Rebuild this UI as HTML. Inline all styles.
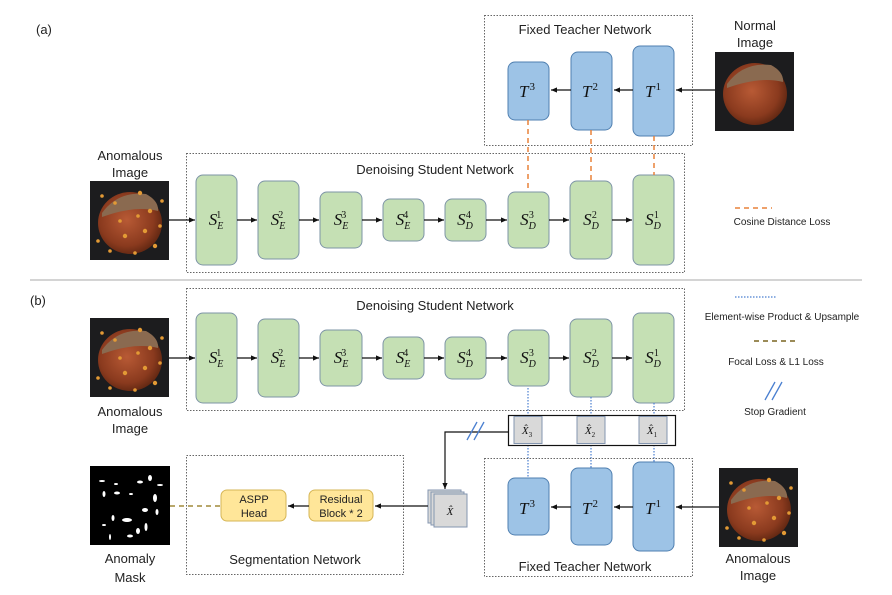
<!DOCTYPE html>
<html><head><meta charset="utf-8"><style>
html,body{margin:0;padding:0;background:#fff}
svg{display:block}
.t{font-family:"Liberation Sans",sans-serif;fill:#222}
.m{font-family:"Liberation Serif",serif;font-style:italic;fill:#111}
</style></head><body>
<svg width="892" height="595" viewBox="0 0 892 595" xmlns="http://www.w3.org/2000/svg">
<defs>
<radialGradient id="nut" cx="0.45" cy="0.45" r="0.6">
<stop offset="0" stop-color="#b85a35"/><stop offset="0.7" stop-color="#8a3a1e"/><stop offset="1" stop-color="#5a2410"/></radialGradient>
<marker id="ar" markerWidth="6" markerHeight="6" refX="5" refY="3" orient="auto"><path d="M0,0.8 L5,3 L0,5.2z" fill="#111"/></marker>
<g id="img">
<rect width="79" height="79" fill="#1c1c1e"/>
<ellipse cx="40" cy="42" rx="32" ry="31" fill="url(#nut)"/>
<path d="M12,32 Q28,10 56,13 Q69,20 68,30 Q45,24 12,36z" fill="#8a6a50"/>
</g>
<g id="spots" fill="#e39a35">
<circle cx="12" cy="15" r="1.8"/><circle cx="50" cy="12" r="2.2"/><circle cx="60" cy="30" r="2.2"/><circle cx="72" cy="20" r="1.8"/><circle cx="25" cy="22" r="1.8"/><circle cx="35" cy="55" r="2.2"/><circle cx="55" cy="50" r="2.2"/><circle cx="70" cy="45" r="1.8"/><circle cx="8" cy="60" r="1.8"/><circle cx="20" cy="70" r="1.8"/><circle cx="45" cy="72" r="1.8"/><circle cx="65" cy="65" r="2.2"/><circle cx="30" cy="40" r="1.8"/><circle cx="48" cy="35" r="1.8"/>
</g>
</defs>

<text x="36" y="34" class="t" font-size="13">(a)</text>
<text x="30" y="305" class="t" font-size="13">(b)</text>
<line x1="30" y1="280" x2="862" y2="280" stroke="#aaa" stroke-width="1"/>

<!-- (a) teacher -->
<rect x="484.5" y="15.5" width="208" height="130" fill="none" stroke="#666" stroke-dasharray="1.5,1.5"/>
<text x="585" y="34" class="t" font-size="13" text-anchor="middle">Fixed Teacher Network</text>
<g fill="#9dc3e6" stroke="#4f7fb0" stroke-width="1">
<rect x="508" y="62" width="41" height="58" rx="7"/>
<rect x="571" y="52" width="41" height="78" rx="7"/>
<rect x="633" y="46" width="41" height="90" rx="7"/>
</g>
<text x="527" y="97" class="m" font-size="17" text-anchor="middle">T<tspan font-size="11" dx="1" dy="-7" font-style="normal">3</tspan></text>
<text x="590" y="97" class="m" font-size="17" text-anchor="middle">T<tspan font-size="11" dx="1" dy="-7" font-style="normal">2</tspan></text>
<text x="653" y="97" class="m" font-size="17" text-anchor="middle">T<tspan font-size="11" dx="1" dy="-7" font-style="normal">1</tspan></text>
<g stroke="#111" stroke-width="1.2" marker-end="url(#ar)">
<line x1="715" y1="90" x2="676" y2="90"/><line x1="633" y1="90" x2="614" y2="90"/><line x1="571" y1="90" x2="551" y2="90"/>
</g>
<use href="#img" x="715" y="52"/>
<text x="755" y="30" class="t" font-size="13" text-anchor="middle">Normal</text>
<text x="755" y="47" class="t" font-size="13" text-anchor="middle">Image</text>

<!-- (a) student -->
<rect x="186.5" y="153.5" width="498" height="119" fill="none" stroke="#666" stroke-dasharray="1.5,1.5"/>
<text x="435" y="174" class="t" font-size="13" text-anchor="middle">Denoising Student Network</text>
<g id="stu">
<g fill="#c5e0b4" stroke="#7d94a6" stroke-width="1">
<rect x="196" y="175" width="41" height="90" rx="7"/>
<rect x="258" y="181" width="41" height="78" rx="7"/>
<rect x="320" y="192" width="42" height="56" rx="7"/>
<rect x="383" y="199" width="41" height="42" rx="7"/>
<rect x="445" y="199" width="41" height="42" rx="7"/>
<rect x="508" y="192" width="41" height="56" rx="7"/>
<rect x="570" y="181" width="42" height="78" rx="7"/>
<rect x="633" y="175" width="41" height="90" rx="7"/>
</g>
<g class="m" font-size="17" text-anchor="middle">
<text x="216" y="225">S<tspan font-size="10" dy="4">E</tspan><tspan font-size="10" dx="-7" dy="-11" font-style="normal">1</tspan></text>
<text x="278" y="225">S<tspan font-size="10" dy="4">E</tspan><tspan font-size="10" dx="-7" dy="-11" font-style="normal">2</tspan></text>
<text x="341" y="225">S<tspan font-size="10" dy="4">E</tspan><tspan font-size="10" dx="-7" dy="-11" font-style="normal">3</tspan></text>
<text x="403" y="225">S<tspan font-size="10" dy="4">E</tspan><tspan font-size="10" dx="-7" dy="-11" font-style="normal">4</tspan></text>
<text x="465" y="225">S<tspan font-size="10" dy="4">D</tspan><tspan font-size="10" dx="-7" dy="-11" font-style="normal">4</tspan></text>
<text x="528" y="225">S<tspan font-size="10" dy="4">D</tspan><tspan font-size="10" dx="-7" dy="-11" font-style="normal">3</tspan></text>
<text x="591" y="225">S<tspan font-size="10" dy="4">D</tspan><tspan font-size="10" dx="-7" dy="-11" font-style="normal">2</tspan></text>
<text x="653" y="225">S<tspan font-size="10" dy="4">D</tspan><tspan font-size="10" dx="-7" dy="-11" font-style="normal">1</tspan></text>
</g>
<g stroke="#111" stroke-width="1.2" marker-end="url(#ar)">
<line x1="169" y1="220" x2="195" y2="220"/><line x1="237" y1="220" x2="257" y2="220"/><line x1="299" y1="220" x2="319" y2="220"/><line x1="362" y1="220" x2="382" y2="220"/><line x1="424" y1="220" x2="444" y2="220"/><line x1="486" y1="220" x2="507" y2="220"/><line x1="549" y1="220" x2="569" y2="220"/><line x1="612" y1="220" x2="632" y2="220"/>
</g>
</g>
<use href="#img" x="90" y="181"/><use href="#spots" x="90" y="181"/>
<text x="130" y="160" class="t" font-size="13" text-anchor="middle">Anomalous</text>
<text x="130" y="177" class="t" font-size="13" text-anchor="middle">Image</text>
<g stroke="#e8823a" stroke-width="1.5" stroke-dasharray="5,4">
<line x1="528" y1="120" x2="528" y2="192"/><line x1="591" y1="130" x2="591" y2="181"/><line x1="654" y1="136" x2="654" y2="175"/>
<line x1="735" y1="208" x2="772" y2="208"/>
</g>
<text x="782" y="225" class="t" font-size="10" text-anchor="middle">Cosine Distance Loss</text>

<!-- (b) student -->
<rect x="186.5" y="288.5" width="498" height="122" fill="none" stroke="#666" stroke-dasharray="1.5,1.5"/>
<text x="435" y="310" class="t" font-size="13" text-anchor="middle">Denoising Student Network</text>
<use href="#stu" x="0" y="138"/>
<use href="#img" x="90" y="318"/><use href="#spots" x="90" y="318"/>
<text x="130" y="416" class="t" font-size="13" text-anchor="middle">Anomalous</text>
<text x="130" y="433" class="t" font-size="13" text-anchor="middle">Image</text>

<!-- X hat bar -->
<g stroke="#4a7fd0" stroke-width="1.2" stroke-dasharray="1.5,1.5">
<line x1="528" y1="388" x2="528" y2="478"/><line x1="591" y1="397" x2="591" y2="468"/><line x1="654" y1="403" x2="654" y2="462"/>
</g>
<rect x="508.5" y="415.5" width="167" height="30" fill="#fff" stroke="#111" stroke-width="1.2"/>
<g fill="#d9d9d9" stroke="#8496b0">
<rect x="514" y="416.5" width="28" height="27"/><rect x="577" y="416.5" width="28" height="27"/><rect x="639" y="416.5" width="28" height="27"/>
</g>
<g class="m" font-size="11" text-anchor="middle">
<text x="527" y="434">X̂<tspan font-size="7" dy="3" font-style="normal">3</tspan></text>
<text x="590" y="434">X̂<tspan font-size="7" dy="3" font-style="normal">2</tspan></text>
<text x="652" y="434">X̂<tspan font-size="7" dy="3" font-style="normal">1</tspan></text>
</g>
<polyline points="508,432 445,432 445,489" fill="none" stroke="#111" stroke-width="1.2" marker-end="url(#ar)"/>
<g stroke="#4a7fd0" stroke-width="1.3"><line x1="467" y1="440" x2="477" y2="422"/><line x1="474" y1="440" x2="484" y2="422"/></g>

<!-- (b) teacher -->
<rect x="484.5" y="458.5" width="208" height="118" fill="none" stroke="#666" stroke-dasharray="1.5,1.5"/>
<text x="585" y="571" class="t" font-size="13" text-anchor="middle">Fixed Teacher Network</text>
<g fill="#9dc3e6" stroke="#4f7fb0" stroke-width="1">
<rect x="508" y="478" width="41" height="57" rx="7"/>
<rect x="571" y="468" width="41" height="77" rx="7"/>
<rect x="633" y="462" width="41" height="89" rx="7"/>
</g>
<text x="527" y="514" class="m" font-size="17" text-anchor="middle">T<tspan font-size="11" dx="1" dy="-7" font-style="normal">3</tspan></text>
<text x="590" y="514" class="m" font-size="17" text-anchor="middle">T<tspan font-size="11" dx="1" dy="-7" font-style="normal">2</tspan></text>
<text x="653" y="514" class="m" font-size="17" text-anchor="middle">T<tspan font-size="11" dx="1" dy="-7" font-style="normal">1</tspan></text>
<g stroke="#111" stroke-width="1.2" marker-end="url(#ar)">
<line x1="720" y1="507" x2="676" y2="507"/><line x1="633" y1="507" x2="614" y2="507"/><line x1="571" y1="507" x2="551" y2="507"/>
</g>
<use href="#img" x="719" y="468"/><use href="#spots" x="719" y="468"/>
<text x="758" y="563" class="t" font-size="13" text-anchor="middle">Anomalous</text>
<text x="758" y="580" class="t" font-size="13" text-anchor="middle">Image</text>

<!-- X hat stack -->
<g fill="#d9d9d9" stroke="#8496b0">
<rect x="428" y="490" width="33" height="33"/><rect x="431" y="492" width="33" height="33"/><rect x="434" y="494" width="33" height="33"/>
</g>
<text x="450" y="515" class="m" font-size="11" text-anchor="middle">X̂</text>

<!-- segmentation -->
<rect x="186.5" y="455.5" width="217" height="119" fill="none" stroke="#666" stroke-dasharray="1.5,1.5"/>
<text x="295" y="564" class="t" font-size="13" text-anchor="middle">Segmentation Network</text>
<g fill="#ffe699" stroke="#d6b656">
<rect x="221" y="490" width="65" height="31" rx="6"/><rect x="309" y="490" width="64" height="31" rx="6"/>
</g>
<text x="254" y="503" class="t" font-size="11" text-anchor="middle">ASPP</text>
<text x="254" y="517" class="t" font-size="11" text-anchor="middle">Head</text>
<text x="341" y="503" class="t" font-size="11" text-anchor="middle">Residual</text>
<text x="341" y="517" class="t" font-size="11" text-anchor="middle">Block * 2</text>
<g stroke="#111" stroke-width="1.2" marker-end="url(#ar)">
<line x1="428" y1="506" x2="375" y2="506"/><line x1="309" y1="506" x2="288" y2="506"/>
</g>
<line x1="170" y1="506" x2="221" y2="506" stroke="#a08a3a" stroke-width="1.5" stroke-dasharray="5,4"/>
<rect x="90" y="466" width="80" height="79" fill="#000"/>
<g fill="#fff">
<ellipse cx="102" cy="481" rx="3" ry="1"/><ellipse cx="116" cy="484" rx="2" ry="1"/><ellipse cx="140" cy="482" rx="3" ry="1.5"/><ellipse cx="150" cy="478" rx="2" ry="3"/><ellipse cx="160" cy="485" rx="3" ry="1"/><ellipse cx="104" cy="494" rx="1.5" ry="3"/><ellipse cx="117" cy="493" rx="3" ry="1.5"/><ellipse cx="131" cy="494" rx="2" ry="1"/><ellipse cx="155" cy="498" rx="2" ry="4"/><ellipse cx="145" cy="510" rx="3" ry="2"/><ellipse cx="127" cy="520" rx="5" ry="2"/><ellipse cx="113" cy="518" rx="1.5" ry="3"/><ellipse cx="146" cy="527" rx="1.5" ry="4"/><ellipse cx="104" cy="525" rx="2" ry="1"/><ellipse cx="130" cy="536" rx="3" ry="1.5"/><ellipse cx="110" cy="537" rx="1" ry="3"/><ellipse cx="138" cy="531" rx="2" ry="3"/><ellipse cx="157" cy="512" rx="1.5" ry="3"/>
</g>
<text x="130" y="563" class="t" font-size="13" text-anchor="middle">Anomaly</text>
<text x="130" y="582" class="t" font-size="13" text-anchor="middle">Mask</text>

<!-- legend b -->
<line x1="735" y1="297" x2="776" y2="297" stroke="#4a7fd0" stroke-width="1.2" stroke-dasharray="1.5,1.5"/>
<text x="782" y="320" class="t" font-size="10" text-anchor="middle">Element-wise Product &amp; Upsample</text>
<line x1="754" y1="341" x2="798" y2="341" stroke="#7a6520" stroke-width="1.5" stroke-dasharray="5,4"/>
<text x="776" y="365" class="t" font-size="10" text-anchor="middle">Focal Loss &amp; L1 Loss</text>
<g stroke="#4a7fd0" stroke-width="1.3"><line x1="765" y1="400" x2="775" y2="382"/><line x1="772" y1="400" x2="782" y2="382"/></g>
<text x="775" y="415" class="t" font-size="10" text-anchor="middle">Stop Gradient</text>
</svg>
</body></html>
